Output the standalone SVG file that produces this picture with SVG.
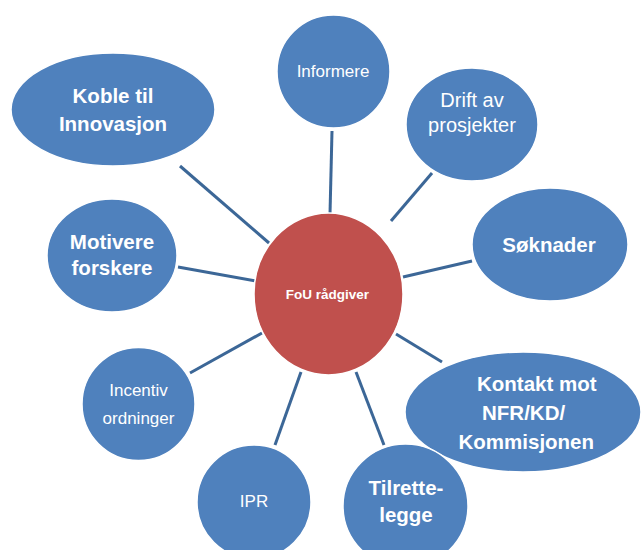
<svg xmlns="http://www.w3.org/2000/svg" width="642" height="550" viewBox="0 0 642 550">
<style>
.b{fill:#4F81BD;stroke:#FFFFFF;stroke-width:1.5}
.r{fill:#C0504D;stroke:#FFFFFF;stroke-width:1.5}
.t{font-family:"Liberation Sans",Arial,sans-serif;fill:#FFFFFF;text-anchor:middle}
.bt{font-weight:bold;font-size:20.5px}
.nt{font-size:17px}
.c line{stroke:#3C6797;stroke-width:3;stroke-linecap:butt}
</style>
<rect width="642" height="550" fill="#FFFFFF"/>
<g id="connectors" class="c">
<line x1="180" y1="166" x2="269" y2="243"/>
<line x1="332" y1="131" x2="330" y2="214"/>
<line x1="432" y1="173" x2="391" y2="221"/>
<line x1="403" y1="277" x2="472" y2="261"/>
<line x1="396" y1="334" x2="442" y2="362"/>
<line x1="356" y1="372" x2="384" y2="445"/>
<line x1="301" y1="372" x2="275" y2="445"/>
<line x1="190" y1="373" x2="262" y2="333"/>
<line x1="178" y1="267" x2="256" y2="281"/>
</g>
<g id="center">
<ellipse class="r" cx="328.5" cy="294" rx="74.5" ry="81"/>
<text class="t" x="327.5" y="299.3" font-size="13.5" font-weight="bold">FoU rådgiver</text>
</g>
<g id="informere">
<ellipse class="b" cx="333.5" cy="71.5" rx="56.5" ry="56.5"/>
<text class="t nt" x="333" y="77.3">Informere</text>
</g>
<g id="drift">
<ellipse class="b" cx="472" cy="124.5" rx="66" ry="56.5"/>
<text class="t" font-size="20" x="472" y="107.3">Drift av</text>
<text class="t" font-size="20" x="472" y="131.7">prosjekter</text>
</g>
<g id="koble">
<ellipse class="b" cx="113" cy="109.5" rx="102" ry="56.5"/>
<text class="t bt" x="113" y="103.3">Koble til</text>
<text class="t bt" x="113" y="130.5">Innovasjon</text>
</g>
<g id="motivere">
<ellipse class="b" cx="112" cy="255.5" rx="65" ry="56.5"/>
<text class="t bt" x="112" y="249.3">Motivere</text>
<text class="t bt" x="112" y="275">forskere</text>
</g>
<g id="soknader">
<ellipse class="b" cx="550" cy="244.5" rx="78" ry="56.5"/>
<text class="t bt" x="549" y="251.7">Søknader</text>
</g>
<g id="incentiv">
<ellipse class="b" cx="138.5" cy="404" rx="56.5" ry="56.5"/>
<text class="t nt" x="138.5" y="396">Incentiv</text>
<text class="t nt" x="138.5" y="424">ordninger</text>
</g>
<g id="kontakt">
<ellipse class="b" cx="523" cy="412" rx="118" ry="60"/>
<text class="t bt" x="477" y="390.7" text-anchor="start" style="text-anchor:start">Kontakt mot</text>
<text class="t bt" x="482" y="420" style="text-anchor:start">NFR/KD/</text>
<text class="t bt" x="458.5" y="449" style="text-anchor:start">Kommisjonen</text>
</g>
<g id="ipr">
<ellipse class="b" cx="254" cy="502" rx="57" ry="57"/>
<text class="t nt" x="254" y="507.3">IPR</text>
</g>
<g id="tilrettelegge">
<ellipse class="b" cx="405.5" cy="506" rx="62.5" ry="62"/>
<text class="t bt" x="406" y="495">Tilrette-</text>
<text class="t bt" x="406" y="521.7">legge</text>
</g>
</svg>
